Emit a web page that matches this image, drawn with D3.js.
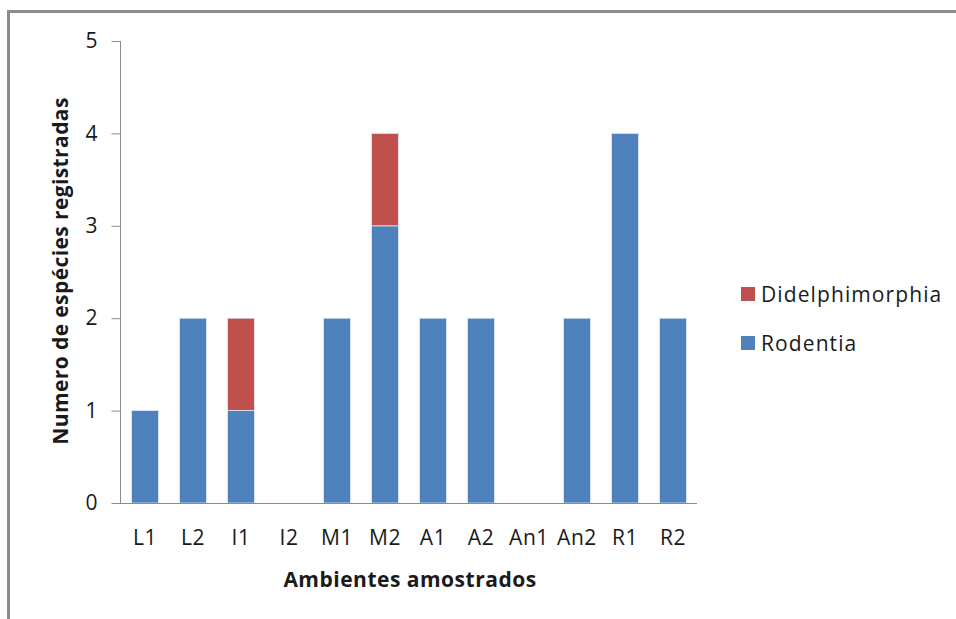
<!DOCTYPE html>
<html>
<head>
<meta charset="utf-8">
<script src="https://cdn.jsdelivr.net/npm/d3@7"></script>
<style>
  body { margin: 0; background: #fff; }
  svg text { font-family: "Open Sans", sans-serif; fill: #1a1a1a; }
</style>
</head>
<body>
<svg id="chart" width="956" height="619"></svg>
<script>
// data
const ambientes = ["L1", "L2", "I1", "I2", "M1", "M2", "A1", "A2", "An1", "An2", "R1", "R2"]
const rodentia = [1, 2, 1, 0, 2, 3, 2, 2, 0, 2, 4, 2]
const didelphimorphia = [0, 0, 1, 0, 0, 1, 0, 0, 0, 0, 0, 0]
const yTicks = [0, 1, 2, 3, 4, 5]
const seriesNames = ["Rodentia", "Didelphimorphia"]
const seriesColors = ["#4f81bd", "#c0504d"]

const svg = d3.select("#chart")

// outer chart frame (runs off the right / bottom)
svg.append("rect")
    .attr("x", 8.5).attr("y", 11.5)
    .attr("width", 1000).attr("height", 700)
    .attr("fill", "none")
    .attr("stroke", "#8c8c8c")
    .attr("stroke-width", 3)

const plotLeft = 121, plotRight = 697, plotTop = 41, plotBottom = 503

const x = d3.scaleBand()
    .domain(ambientes)
    .range([plotLeft, plotRight])
    .paddingInner(0.44)
    .paddingOuter(0.22)

const y = d3.scaleLinear()
    .domain([0, 5])
    .range([plotBottom, plotTop])

const rows = ambientes.map((a, i) => {
    return {amb: a, Rodentia: rodentia[i], Didelphimorphia: didelphimorphia[i]}
})
const stacked = d3.stack().keys(seriesNames)(rows)

svg.append("g")
    .selectAll("g")
    .data(stacked)
    .enter()
    .append("g")
    .attr("fill", (d, i) => seriesColors[i])
    .selectAll("rect")
    .data((d) => d.filter((p) => p[1] > p[0]))
    .enter()
    .append("rect")
    .attr("x", (d) => x(d.data.amb))
    .attr("y", (d) => y(d[1]))
    .attr("width", x.bandwidth())
    .attr("height", (d) => y(d[0]) - y(d[1]))
    .attr("stroke", "#dfe8f3")
    .attr("stroke-width", 0.8)

// y axis
const yAxis = svg.append("g")
    .attr("transform", "translate(" + (plotLeft - 0.5) + ",0)")
    .call(d3.axisLeft(y).tickValues(yTicks).tickSize(9).tickPadding(14).tickFormat(d3.format("d")))
yAxis.select(".domain").attr("stroke", "#8c8c8c").attr("d", "M0," + plotTop + "V" + plotBottom)
yAxis.selectAll(".tick line").attr("stroke", "#8c8c8c")
yAxis.selectAll(".tick text").attr("font-size", 21).attr("fill", "#1a1a1a")
    .attr("font-family", "'Open Sans', sans-serif")

// x axis
const xAxis = svg.append("g")
    .attr("transform", "translate(0," + (plotBottom + 0.5) + ")")
    .call(d3.axisBottom(x).tickSize(0).tickPadding(27))
xAxis.select(".domain").attr("stroke", "#8c8c8c").attr("d", "M" + (plotLeft - 9) + ",0H" + plotRight)
xAxis.selectAll(".tick text").attr("font-size", 21).attr("fill", "#1a1a1a")
    .attr("font-family", "'Open Sans', sans-serif")
    .attr("letter-spacing", 0.6)

// axis titles
svg.append("text")
    .attr("transform", "translate(68,271) rotate(-90)")
    .attr("text-anchor", "middle")
    .attr("font-size", 21)
    .attr("font-weight", "bold")
    .attr("letter-spacing", 0.4)
    .text("Numero de espécies registradas")

svg.append("text")
    .attr("x", 410).attr("y", 587)
    .attr("text-anchor", "middle")
    .attr("font-size", 21)
    .attr("font-weight", "bold")
    .attr("letter-spacing", 0.5)
    .text("Ambientes amostrados")

// legend, Didelphimorphia on top
const legendItems = [1, 0]
const lg = svg.append("g")
    .selectAll("g")
    .data(legendItems)
    .enter()
    .append("g")
    .attr("transform", (d, i) => "translate(741," + (287 + i * 49) + ")")
lg.append("rect")
    .attr("width", 14).attr("height", 14)
    .attr("fill", (d) => seriesColors[d])
lg.append("text")
    .attr("x", 20).attr("y", 15)
    .attr("font-size", 21)
    .attr("letter-spacing", 1.1)
    .text((d) => seriesNames[d])
</script>
</body>
</html>
